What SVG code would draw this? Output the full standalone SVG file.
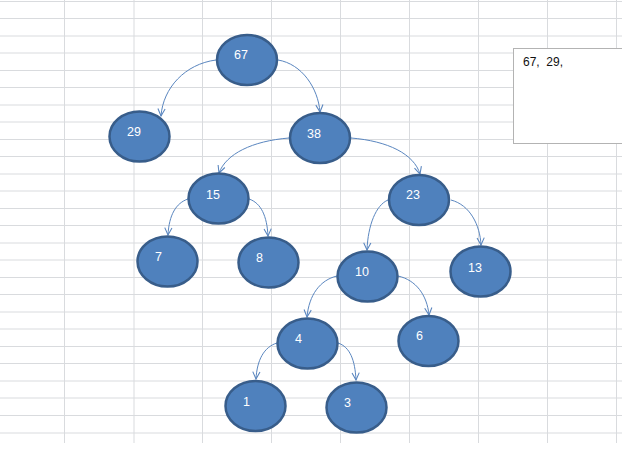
<svg xmlns="http://www.w3.org/2000/svg" width="622" height="450" viewBox="0 0 622 450">
<style>
.grid line{stroke:#d9dbde;stroke-width:1}
.node ellipse{fill:#4f81bd;stroke:#385d8a;stroke-width:2.5}
.node text{fill:#ffffff;font-family:"Liberation Sans",Arial,sans-serif;font-size:12.5px}
.edges path{fill:none;stroke:#5a86bf;stroke-width:1;marker-end:url(#arr)}
.note rect{fill:#ffffff;stroke:#b3b3b3;stroke-width:1}
.note text{fill:#111;font-family:"Liberation Sans",Arial,sans-serif;font-size:12px;white-space:pre}
</style>
<defs>
<marker id="arr" viewBox="0 0 10 10" refX="9" refY="5" markerWidth="9" markerHeight="9" markerUnits="userSpaceOnUse" orient="auto">
<path d="M1,1 L9,5 L1,9" fill="none" stroke="#5a86bf" stroke-width="1.2"/>
</marker>
</defs>
<rect width="622" height="450" fill="#ffffff"/>
<g class="grid">
<line x1="0" y1="1.5" x2="622" y2="1.5"/>
<line x1="0" y1="18.5" x2="622" y2="18.5"/>
<line x1="0" y1="36" x2="622" y2="36"/>
<line x1="0" y1="53" x2="622" y2="53"/>
<line x1="0" y1="70.5" x2="622" y2="70.5"/>
<line x1="0" y1="87.5" x2="622" y2="87.5"/>
<line x1="0" y1="105" x2="622" y2="105"/>
<line x1="0" y1="122" x2="622" y2="122"/>
<line x1="0" y1="139.5" x2="622" y2="139.5"/>
<line x1="0" y1="156.5" x2="622" y2="156.5"/>
<line x1="0" y1="174" x2="622" y2="174"/>
<line x1="0" y1="191" x2="622" y2="191"/>
<line x1="0" y1="208.5" x2="622" y2="208.5"/>
<line x1="0" y1="225.5" x2="622" y2="225.5"/>
<line x1="0" y1="243" x2="622" y2="243"/>
<line x1="0" y1="260" x2="622" y2="260"/>
<line x1="0" y1="277.5" x2="622" y2="277.5"/>
<line x1="0" y1="294.5" x2="622" y2="294.5"/>
<line x1="0" y1="312" x2="622" y2="312"/>
<line x1="0" y1="329" x2="622" y2="329"/>
<line x1="0" y1="346.5" x2="622" y2="346.5"/>
<line x1="0" y1="363.5" x2="622" y2="363.5"/>
<line x1="0" y1="381" x2="622" y2="381"/>
<line x1="0" y1="398" x2="622" y2="398"/>
<line x1="0" y1="415.5" x2="622" y2="415.5"/>
<line x1="0" y1="433" x2="622" y2="433"/>
<line x1="64.5" y1="0" x2="64.5" y2="443"/>
<line x1="134" y1="0" x2="134" y2="443"/>
<line x1="202.5" y1="0" x2="202.5" y2="443"/>
<line x1="271.5" y1="0" x2="271.5" y2="443"/>
<line x1="340.5" y1="0" x2="340.5" y2="443"/>
<line x1="409.5" y1="0" x2="409.5" y2="443"/>
<line x1="478.5" y1="0" x2="478.5" y2="443"/>
<line x1="547.5" y1="0" x2="547.5" y2="443"/>
<line x1="616.5" y1="0" x2="616.5" y2="443"/>
</g>
<g class="note" id="note">
<rect x="513.5" y="48.5" width="115" height="95"/>
<text x="523" y="66" xml:space="preserve">67,  29,</text>
</g>
<g class="edges" id="connectors">
<path d="M216,60 C185,64 163,88 161,116"/>
<path d="M278,60 C302,64 318,88 320,112"/>
<path d="M289,138 C252,141 226,154 219,173"/>
<path d="M351,138 C388,141 414,154 420,174"/>
<path d="M188,199 C176,203 169,215 168,235"/>
<path d="M249,199 C261,203 267,216 268,236"/>
<path d="M388,200 C376,205 368,225 367,250"/>
<path d="M451,200 C470,205 480,225 481,245"/>
<path d="M337,276 C320,280 309,295 307,317"/>
<path d="M398,276 C416,280 427,295 429,315"/>
<path d="M277,343 C264,347 257,360 256,379"/>
<path d="M338,343 C350,347 355,360 356,380"/>
</g>
<g class="node" id="n67"><ellipse cx="247" cy="60" rx="30" ry="25"/><text x="234" y="59">67</text></g>
<g class="node" id="n29"><ellipse cx="139.5" cy="136.5" rx="30" ry="25"/><text x="127" y="136">29</text></g>
<g class="node" id="n38"><ellipse cx="320" cy="138" rx="30" ry="25"/><text x="307" y="138">38</text></g>
<g class="node" id="n15"><ellipse cx="218.5" cy="198.5" rx="30" ry="25"/><text x="206" y="199">15</text></g>
<g class="node" id="n23"><ellipse cx="419" cy="200" rx="30" ry="25"/><text x="406" y="199">23</text></g>
<g class="node" id="n7"><ellipse cx="167.5" cy="261.5" rx="30" ry="25"/><text x="155" y="261">7</text></g>
<g class="node" id="n8"><ellipse cx="268.5" cy="262.5" rx="30" ry="25"/><text x="256" y="262">8</text></g>
<g class="node" id="n10"><ellipse cx="367.5" cy="276.5" rx="30" ry="25"/><text x="355" y="276">10</text></g>
<g class="node" id="n13"><ellipse cx="480.5" cy="271.5" rx="30" ry="25"/><text x="468" y="272">13</text></g>
<g class="node" id="n4"><ellipse cx="307.5" cy="343.5" rx="30" ry="25"/><text x="295" y="343">4</text></g>
<g class="node" id="n6"><ellipse cx="428.5" cy="341" rx="30" ry="25"/><text x="416" y="340">6</text></g>
<g class="node" id="n1"><ellipse cx="255.5" cy="406" rx="30" ry="25"/><text x="243" y="406">1</text></g>
<g class="node" id="n3"><ellipse cx="356.5" cy="407.5" rx="30" ry="25"/><text x="344" y="407">3</text></g>
</svg>
